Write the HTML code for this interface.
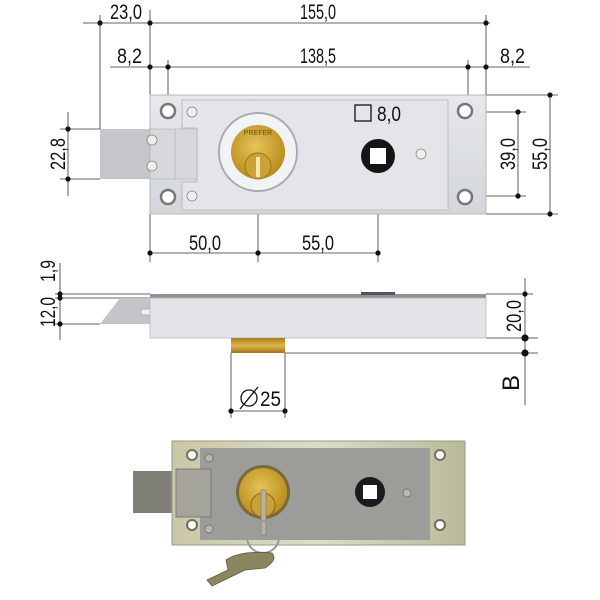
<!DOCTYPE html>
<html><head><meta charset="utf-8"><style>
html,body{margin:0;padding:0;background:#fff;}
svg{display:block;}
text{font-family:"Liberation Sans",sans-serif;fill:#111;}
</style></head><body>
<svg width="600" height="600" viewBox="0 0 600 600" xmlns="http://www.w3.org/2000/svg">
<defs>
<linearGradient id="body" x1="0" y1="0" x2="0" y2="1"><stop offset="0" stop-color="#e6e8eb"/><stop offset="1" stop-color="#d3d6da"/></linearGradient>
<radialGradient id="brass" cx="0.45" cy="0.4" r="0.6"><stop offset="0" stop-color="#e6c35a"/><stop offset="1" stop-color="#b98c1c"/></radialGradient>
<linearGradient id="brassS" x1="0" y1="0" x2="0" y2="1"><stop offset="0" stop-color="#a97e1c"/><stop offset="0.5" stop-color="#dcb548"/><stop offset="1" stop-color="#a07516"/></linearGradient>
<linearGradient id="pbox" x1="0" y1="0" x2="1" y2="0"><stop offset="0" stop-color="#c9c7a6"/><stop offset="0.5" stop-color="#dcdcc8"/><stop offset="1" stop-color="#b9b99a"/></linearGradient>
</defs>
<g stroke="#333" stroke-width="0.8" fill="none">
<line x1="83" y1="23" x2="490" y2="23"/>
<line x1="110" y1="67" x2="530" y2="67"/>
<line x1="100" y1="15" x2="100" y2="129"/>
<line x1="150" y1="10" x2="150" y2="262"/>
<line x1="486" y1="15" x2="486" y2="95"/>
<line x1="168" y1="60" x2="168" y2="110"/>
<line x1="468" y1="60" x2="468" y2="110"/>
<line x1="68" y1="112" x2="68" y2="196"/>
<line x1="60" y1="129" x2="100" y2="129"/>
<line x1="60" y1="179" x2="100" y2="179"/>
<line x1="150" y1="253" x2="377" y2="253"/>
<line x1="258" y1="152" x2="258" y2="262"/>
<line x1="378" y1="156" x2="378" y2="262"/>
<line x1="352" y1="126" x2="404" y2="126"/>
<line x1="369" y1="126" x2="369" y2="142"/>
<line x1="387" y1="126" x2="387" y2="142"/>
<line x1="518" y1="112" x2="518" y2="196"/>
<line x1="465" y1="112" x2="526" y2="112"/>
<line x1="465" y1="196" x2="526" y2="196"/>
<line x1="550" y1="95" x2="550" y2="214"/>
<line x1="486" y1="95" x2="558" y2="95"/>
<line x1="486" y1="214" x2="558" y2="214"/>
<line x1="60" y1="263" x2="60" y2="340"/>
<line x1="55" y1="294" x2="150" y2="294"/>
<line x1="55" y1="298" x2="150" y2="298"/>
<line x1="55" y1="324" x2="100" y2="324"/>
<line x1="525" y1="278" x2="525" y2="405"/>
<line x1="486" y1="294" x2="533" y2="294"/>
<line x1="486" y1="338" x2="538" y2="338"/>
<line x1="285" y1="353" x2="538" y2="353"/>
<line x1="231" y1="353" x2="231" y2="418"/>
<line x1="285" y1="353" x2="285" y2="418"/>
<line x1="231" y1="411" x2="285" y2="411"/>
</g>
<g fill="#111">
<circle cx="100" cy="23" r="2.6"/><circle cx="150" cy="23" r="2.6"/><circle cx="486" cy="23" r="2.6"/>
<circle cx="150" cy="67" r="2.6"/><circle cx="168" cy="67" r="2.6"/><circle cx="468" cy="67" r="2.6"/><circle cx="486" cy="67" r="2.6"/>
<circle cx="68" cy="129" r="2.6"/><circle cx="68" cy="179" r="2.6"/>
<circle cx="150" cy="253" r="2.6"/><circle cx="258" cy="253" r="2.6"/><circle cx="378" cy="253" r="2.6"/>
<circle cx="369" cy="126" r="2.6"/><circle cx="387" cy="126" r="2.6"/>
<circle cx="518" cy="112" r="2.6"/><circle cx="518" cy="196" r="2.6"/>
<circle cx="550" cy="95" r="2.6"/><circle cx="550" cy="214" r="2.6"/>
<circle cx="60" cy="294" r="2.6"/><circle cx="60" cy="298" r="2.6"/><circle cx="60" cy="324" r="2.6"/>
<circle cx="525" cy="294" r="2.6"/><circle cx="525" cy="338" r="3.6"/><circle cx="525" cy="353" r="3.6"/>
<circle cx="231" cy="411" r="2.6"/><circle cx="285" cy="411" r="2.6"/>
</g>
<rect x="100" y="129" width="52" height="50" fill="#c4c6c9"/>
<rect x="150" y="95" width="336" height="119" fill="url(#body)" stroke="#b5b8bc"/>
<path d="M182 100 H448 V210 H182 V182 H197 V128 H182 Z" fill="#e3e5e8" stroke="#aeb1b5" stroke-width="0.8"/>
<rect x="150" y="129" width="47" height="50" fill="#d6d8db" stroke="#b0b3b7" stroke-width="0.6"/>
<line x1="175" y1="129" x2="175" y2="179" stroke="#aaa" stroke-width="0.6"/>
<g fill="#fff" stroke="#777" stroke-width="2.5">
<circle cx="168" cy="111" r="7"/><circle cx="168" cy="197" r="7"/><circle cx="465" cy="111" r="7"/><circle cx="465" cy="197" r="7"/>
</g>
<g fill="#eee" stroke="#888" stroke-width="0.8">
<circle cx="192" cy="112" r="5"/><circle cx="192" cy="196" r="5"/><circle cx="421" cy="154" r="5"/>
<circle cx="152" cy="140" r="5"/><circle cx="152" cy="166" r="5"/>
</g>
<circle cx="258" cy="152" r="39" fill="#f2f3f4" stroke="#a8abaf" stroke-width="2"/>
<circle cx="258" cy="152" r="27" fill="url(#brass)"/>
<circle cx="258" cy="166" r="13" fill="#caa235" stroke="#9a7714" stroke-width="1"/>
<rect x="256" y="157" width="4" height="20" fill="#f4e7b0"/>
<text x="258" y="135" font-size="7" text-anchor="middle" style="fill:#6b4e0a">PREFER</text>
<circle cx="378" cy="156" r="17" fill="#151515"/>
<rect x="370" y="148" width="16" height="16" fill="#fff"/>
<rect x="355" y="105" width="16" height="16" fill="none" stroke="#111" stroke-width="1.3"/>
<g font-size="21">
<text x="377" y="121" textLength="24" lengthAdjust="spacingAndGlyphs">8,0</text>
<text x="142" y="19" text-anchor="end" textLength="32" lengthAdjust="spacingAndGlyphs">23,0</text>
<text x="318" y="19" text-anchor="middle" textLength="36" lengthAdjust="spacingAndGlyphs">155,0</text>
<text x="142" y="63" text-anchor="end" textLength="25" lengthAdjust="spacingAndGlyphs">8,2</text>
<text x="318" y="63" text-anchor="middle" textLength="36" lengthAdjust="spacingAndGlyphs">138,5</text>
<text x="525" y="63" text-anchor="end" textLength="25" lengthAdjust="spacingAndGlyphs">8,2</text>
<text x="205" y="250" text-anchor="middle" textLength="32" lengthAdjust="spacingAndGlyphs">50,0</text>
<text x="318" y="250" text-anchor="middle" textLength="32" lengthAdjust="spacingAndGlyphs">55,0</text>
<text transform="translate(65,154) rotate(-90)" text-anchor="middle" textLength="32" lengthAdjust="spacingAndGlyphs">22,8</text>
<text transform="translate(515,154) rotate(-90)" text-anchor="middle" textLength="32" lengthAdjust="spacingAndGlyphs">39,0</text>
<text transform="translate(547,154) rotate(-90)" text-anchor="middle" textLength="32" lengthAdjust="spacingAndGlyphs">55,0</text>
<text transform="translate(55,271) rotate(-90)" text-anchor="middle" textLength="22" lengthAdjust="spacingAndGlyphs">1,9</text>
<text transform="translate(55,312) rotate(-90)" text-anchor="middle" textLength="30" lengthAdjust="spacingAndGlyphs">12,0</text>
<text transform="translate(521,316) rotate(-90)" text-anchor="middle" textLength="32" lengthAdjust="spacingAndGlyphs">20,0</text>
<text x="260" y="406" textLength="21" lengthAdjust="spacingAndGlyphs">25</text>
</g>
<text transform="translate(519,383) rotate(-90)" font-size="24" text-anchor="middle">B</text>
<circle cx="249" cy="398" r="8" fill="none" stroke="#111" stroke-width="1.3"/>
<line x1="240" y1="409" x2="258" y2="387" stroke="#111" stroke-width="1.3"/>
<polygon points="100,324 120,298 150,298 150,324" fill="#c2c4c7"/>
<rect x="141" y="309" width="9" height="6" fill="#eee" stroke="#999" stroke-width="0.6"/>
<rect x="150" y="294" width="336" height="4" fill="#8e9196"/>
<rect x="150" y="298" width="336" height="40" fill="#e2e4e7" stroke="#b5b8bc" stroke-width="0.8"/>
<rect x="361" y="292" width="34" height="3" fill="#555"/>
<rect x="231" y="338" width="54" height="15" fill="url(#brassS)"/>
<rect x="133" y="471" width="48" height="42" fill="#807f76"/>
<rect x="172" y="441" width="293" height="104" fill="url(#pbox)" stroke="#9a9a88"/>
<rect x="200" y="448" width="230" height="92" fill="#9c9d98"/>
<rect x="176" y="469" width="35" height="48" fill="#a4a49a" stroke="#707066" stroke-width="0.8"/>
<g fill="#fff" stroke="#6f6f60" stroke-width="2">
<circle cx="192" cy="455" r="5"/><circle cx="192" cy="525" r="5"/><circle cx="440" cy="455" r="5"/><circle cx="440" cy="525" r="5"/>
</g>
<g fill="#b8b8b0" stroke="#666" stroke-width="0.7">
<circle cx="209" cy="458" r="4"/><circle cx="209" cy="529" r="4"/><circle cx="407" cy="493" r="4"/>
</g>
<circle cx="263" cy="492" r="27" fill="#7a6a3a"/>
<circle cx="263" cy="492" r="24" fill="url(#brass)"/>
<circle cx="263" cy="505" r="12" fill="#c9a03a" stroke="#8a6a1a"/>
<rect x="261" y="490" width="5" height="45" fill="#b7b39a" stroke="#777" stroke-width="0.6"/>
<circle cx="370" cy="492" r="15" fill="#1e1a20"/>
<rect x="363" y="485" width="14" height="14" fill="#fff"/>
<circle cx="263" cy="537" r="16" fill="none" stroke="#9a9a9a" stroke-width="2"/>
<path d="M226 560 Q240 550 272 553 Q278 560 265 568 L245 570 L212 586 L207 580 L228 570 Z" fill="#8a8660" stroke="#5f5c40" stroke-width="0.8"/>
</svg>
</body></html>
